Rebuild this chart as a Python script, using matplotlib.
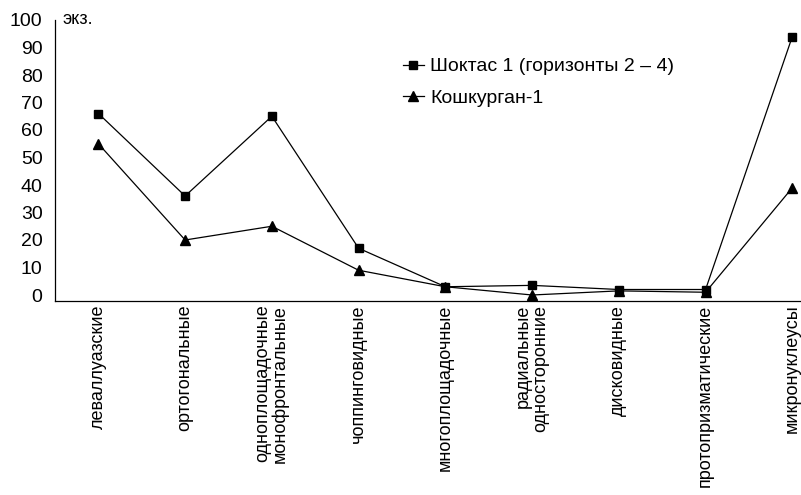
import matplotlib
matplotlib.use("Agg")
import matplotlib.pyplot as plt

categories = ["леваллуазские", "ортогональные", "одноплощадочные\nмонофронтальные",
              "чоппинговидные", "многоплощадочные", "радиальные\nодносторонние",
              "дисковидные", "протопризматические", "микронуклеусы"]
shoktas = [66, 36, 65, 17, 3, 3.5, 2, 2, 94]
koshkurgan = [55, 20, 25, 9, 3, 0, 1.5, 1, 39]
yticks = [0, 10, 20, 30, 40, 50, 60, 70, 80, 90, 100]

plt.rcParams['font.family'] = ['Liberation Sans', 'DejaVu Sans']

fig = plt.figure(figsize=(8.01, 4.95), dpi=100)
W, H = 801, 495
ax = fig.add_axes([55 / W, 1 - 300.5 / H, (801 - 55) / W, (300.5 - 20) / H])

x = list(range(len(categories)))
ax.plot(x, shoktas, color='black', lw=0.9, marker='s', ms=6,
        label='Шоктас 1 (горизонты 2 – 4)', clip_on=False)
ax.plot(x, koshkurgan, color='black', lw=0.9, marker='^', ms=7,
        label='Кошкурган-1', clip_on=False)

ax.set_xlim(-0.5, 8.1)
ax.set_ylim(-2, 100)
ax.set_yticks(yticks)
ax.set_yticklabels([str(v) for v in yticks], fontsize=14)
ax.set_xticks(x)
ax.set_xticklabels(categories, rotation=90, fontsize=13, va='top', ha='center',
                   multialignment='right', linespacing=1.0)
ax.tick_params(axis='both', length=0)
ax.tick_params(axis='y', pad=9)
ax.tick_params(axis='x', pad=3)
for s in ['top', 'right']:
    ax.spines[s].set_visible(False)
ax.spines['left'].set_linewidth(0.9)
ax.spines['bottom'].set_linewidth(0.9)

ax.text(0.01, 100, 'экз.', transform=ax.get_yaxis_transform(), fontsize=13,
        va='center', ha='left')

leg = ax.legend(loc='upper left', bbox_to_anchor=(340 / 746, 0.893), frameon=False,
                fontsize=14, handlelength=1.1, handletextpad=0.3, labelspacing=0.7,
                borderaxespad=0)

fig.savefig('out.png', dpi=100)
